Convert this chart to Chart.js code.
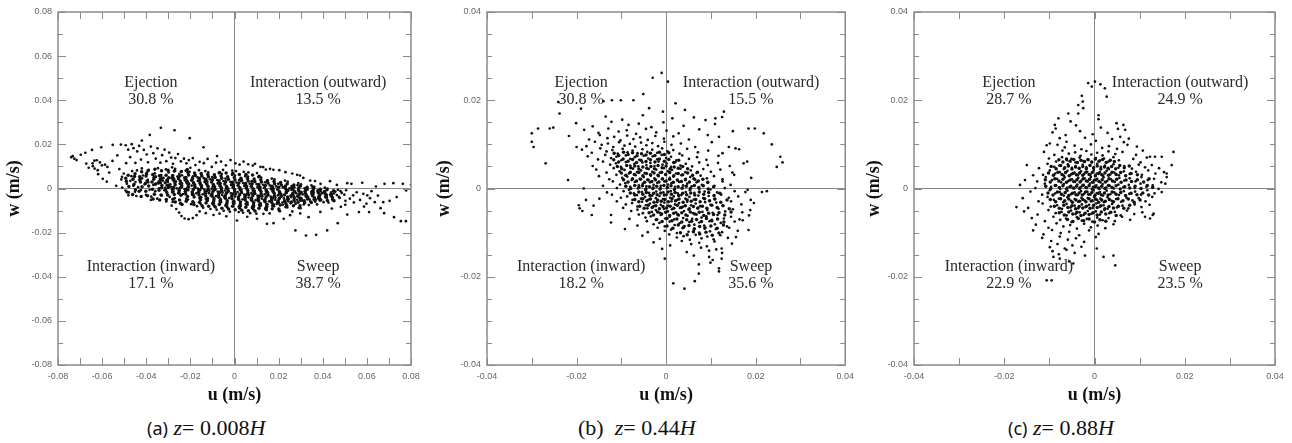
<!DOCTYPE html>
<html>
<head>
<meta charset="utf-8">
<script src="https://cdn.jsdelivr.net/npm/chart.js@4.4.1/dist/chart.umd.min.js"></script>
<style>
  body { margin: 0; background: #fff; width: 1292px; height: 443px; position: relative; overflow: hidden; }
  .panel { position: absolute; top: 0; }
  .cap { position: absolute; top: 414px; font-family: 'Liberation Serif', serif; font-size: 22px; line-height: 28px; white-space: nowrap; color: #111; }
  .cap .sans { font-family: 'Noto Sans', sans-serif; font-size: 18px; }
</style>
</head>
<body>
<div class="panel" style="left:0px"><canvas id="graficoA" width="430" height="410"></canvas></div>
<div class="panel" style="left:430px"><canvas id="graficoB" width="430" height="410"></canvas></div>
<div class="panel" style="left:860px"><canvas id="graficoC" width="432" height="410"></canvas></div>
<div class="cap" style="left:147px"><span class="sans">(a)</span> <i>z</i>= 0.008<i>H</i></div>
<div class="cap" style="left:578px">(b)&nbsp; <i>z</i>= 0.44<i>H</i></div>
<div class="cap" style="left:1008px"><span class="sans">(c)</span> <i>z</i>= 0.88<i>H</i></div>
<script>
// quadrant names and shares (%), one list per panel
const quadrantNames = ['Ejection', 'Interaction (outward)', 'Interaction (inward)', 'Sweep'];
const sharesA = ['30.8 %', '13.5 %', '17.1 %', '38.7 %'];
const sharesB = ['30.8 %', '15.5 %', '18.2 %', '35.6 %'];
const sharesC = ['28.7 %', '24.9 %', '22.9 %', '23.5 %'];

// axis limits (m/s) and tick spacing
const limitA = 0.08, limitB = 0.04, limitC = 0.04;
const labelStep = 0.02;

// samples, [u, w] in mm/s
const ptsA = [
  [-74.0,14.2],[-72.6,13.5],[-73.3,14.7],[-71.6,12.9],[-69.7,15.3],[-67.6,16.2],[-64.6,17.5],[-60.4,18.7],[-55.2,19.8],[-51.5,19.9],
  [-49.3,19.6],[-46.6,20.1],[-42.0,21.7],[-38.4,24.3],[-33.4,27.5],[-27.2,26.4],[-20.3,22.8],[-14.0,18.7],[-7.9,14.7],
  [-63.5,12.6],[-64.3,11.4],[-64.2,10.1],[-63.4,9.0],[-62.0,8.3],[-61.0,11.8],[-62.4,12.8],[-60.1,10.5],[-58.7,10.8],[-57.6,9.8],
  [-67.2,11.3],[-66.1,9.4],[-61.8,6.5],[-59.7,4.4],[-57.9,3.1],[-56.8,7.2],[-55.3,12.5],[-53.1,15.0],[-52.2,8.8],[-51.0,5.3],
  [-53.6,1.2],[-49.1,11.5],[-48.2,17.6],[-47.3,14.2],[-45.8,18.3],[-44.9,11.6],[-44.1,16.8],[-43.2,19.3],[-42.4,13.1],[-41.1,17.5],
  [-39.8,15.4],[-39.2,11.9],[-37.9,19.0],[-36.8,16.0],[-35.7,13.5],[-34.9,18.2],[-33.6,11.7],[-32.8,15.1],[-31.7,17.6],[-30.9,12.4],
  [-29.6,16.3],[-28.7,14.0],[-27.9,11.2],[-26.8,13.8],[-25.6,15.6],[-24.3,12.3],[-22.9,13.5],[-21.8,11.4],[-20.7,12.9],[-18.9,13.8],
  [-17.7,10.6],[-15.8,12.1],[-13.9,11.5],[-12.2,13.4],[-10.3,9.8],[-8.4,11.7],[-6.1,12.2],[-3.9,10.5],[-1.8,12.9],[0.4,11.4],
  [2.3,10.8],[4.1,12.2],[6.2,11.0],[8.3,10.4],[9.3,11.2],[11.8,9.8],[13.0,9.7],[14.2,8.6],[16.1,8.9],[17.6,8.5],
  [20.3,8.3],[23.1,7.4],[26.2,6.8],[28.4,6.2],[29.7,5.9],[31.2,4.8],[34.3,3.6],[36.5,3.4],[39.0,2.1],[43.3,3.3],[46.4,1.6],
  [-28.5,-7.8],[-26.4,-9.3],[-25.1,-10.9],[-24.0,-12.5],[-22.6,-13.6],[-20.8,-13.9],[-18.9,-13.4],[-17.2,-12.1],[-15.8,-10.4],[-13.0,-11.2],
  [-9.5,-12.0],[-6.8,-11.4],[-3.7,-12.6],[1.1,-14.5],[5.8,-12.8],[10.2,-13.7],[14.7,-16.0],[17.7,-15.7],[22.3,-13.7],[25.2,-12.1],
  [27.6,-19.0],[29.8,-11.3],[32.4,-21.3],[33.6,-13.0],[37.0,-21.0],[38.9,-10.6],[42.0,-19.0],[44.1,-9.1],[46.8,-15.7],[48.2,-8.3],[51.1,-11.8],
  [51.1,2.4],[53.0,2.1],[55.4,-1.7],[57.9,2.6],[58.4,-2.4],[60.2,-3.1],[62.1,-1.2],[65.0,-3.2],[68.0,2.1],[72.0,2.4],
  [76.3,2.1],[80.0,1.7],[82.8,1.4],[77.8,-0.9],[63.6,-6.2],[67.4,-6.2],[58.7,-8.2],[56.4,-10.7],[61.0,-10.7],[67.8,-11.2],
  [72.3,-13.0],[75.4,-14.8],[77.7,-14.8],[80.8,-13.0],[84.2,-9.7],[86.7,-1.5],[86.6,-3.8],[52.3,-4.6],[54.1,-6.3],[50.6,-0.8],
  [53.8,-3.1],[56.9,-5.2],[59.8,-6.9],[61.4,-4.4],[64.1,0.9],[70.3,-5.6],[73.5,-3.9],[66.2,-8.9],[50.2,-7.4],
  [-51.3,4.1],[-49.4,-0.9],[-50.2,6.8],[-48.8,2.2],[-50.9,0.4],
  [-46.4,7.9],[-47.2,3.5],[-45.8,1.2],[-47.9,-1.8],[-46.7,5.6],[-48.1,-3.1],
  [-44.2,8.2],[-42.8,5.1],[-44.9,2.9],[-43.7,0.6],[-45.1,-1.5],[-43.1,3.8],[-44.5,-3.4],
  [-39.8,7.1],[-41.9,4.6],[-40.7,1.9],[-42.4,-0.7],[-40.1,-2.9],[-41.5,5.9],[-39.6,3.2],[-42.0,9.1],
  [-38.9,8.4],[-37.1,6.2],[-39.3,3.9],[-36.8,1.6],[-38.5,-0.6],[-37.7,-3.7],[-36.6,5.1],[-39.1,2.8],[-37.9,-5.2],
  [-34.7,9.2],[-36.1,6.9],[-33.8,4.4],[-35.5,2.2],[-34.2,0.1],[-36.3,-2.4],[-35.0,-4.6],[-33.6,5.5],[-34.4,3.1],[-35.9,-1.2],
  [-31.1,8.7],[-33.2,6.1],[-32.5,3.6],[-30.7,1.4],[-31.8,-0.8],[-33.0,-3.2],[-30.9,-5.9],[-32.2,4.8],[-33.4,2.5],[-31.4,0.3],
  [-28.3,9.6],[-29.9,7.3],[-27.8,5.0],[-30.2,2.9],[-28.9,0.8],[-27.6,-1.5],[-29.4,-3.8],[-28.0,-6.1],[-30.3,4.1],[-29.1,1.9],[-27.7,-0.4],
  [-26.9,8.9],[-25.0,6.6],[-27.3,4.3],[-24.8,2.2],[-26.2,0.1],[-25.5,-2.1],[-27.1,-4.4],[-24.7,-6.8],[-25.9,5.4],[-26.6,3.2],[-24.9,-1.0],[-27.4,7.8],
  [-22.1,8.1],[-23.8,6.0],[-21.7,3.8],[-24.2,1.7],[-22.6,-0.3],[-23.3,-2.5],[-21.9,-4.7],[-24.4,-6.6],[-22.8,4.9],[-21.6,2.6],[-23.9,0.6],[-22.4,-1.4],
  [-20.4,7.6],[-18.8,5.5],[-21.3,3.3],[-19.4,1.3],[-20.9,-0.7],[-18.6,-2.8],[-21.1,-5.0],[-19.7,-7.1],[-18.9,4.4],[-20.6,2.2],[-21.4,0.3],[-19.1,-1.8],[-20.0,9.4],
  [-16.1,8.3],[-17.8,6.2],[-15.7,4.0],[-18.2,1.9],[-16.6,-0.1],[-17.3,-2.2],[-15.9,-4.3],[-18.4,-6.5],[-16.8,5.1],[-15.6,2.9],[-17.9,0.8],[-16.4,-1.2],[-17.0,-8.0],
  [-13.2,7.9],[-14.9,5.8],[-12.8,3.6],[-15.3,1.5],[-13.7,-0.5],[-14.4,-2.6],[-13.0,-4.7],[-15.4,-6.9],[-13.9,4.7],[-12.7,2.5],[-15.0,0.4],[-13.5,-1.6],[-14.2,-8.7],
  [-11.9,7.3],[-10.1,5.2],[-12.3,3.1],[-9.8,1.0],[-11.4,-1.0],[-10.7,-3.1],[-12.1,-5.2],[-9.6,-7.4],[-11.1,4.2],[-12.4,2.0],[-10.3,-0.1],[-11.6,-2.1],[-10.9,-9.3],[-9.7,-6.3],
  [-7.1,7.0],[-8.9,4.9],[-6.8,2.7],[-9.3,0.6],[-7.6,-1.4],[-8.4,-3.5],[-6.7,-5.6],[-9.2,-7.8],[-7.9,3.8],[-6.6,1.6],[-8.7,-0.5],[-7.3,-2.5],[-8.1,-9.6],[-9.4,-6.7],
  [-5.8,6.6],[-4.1,4.5],[-6.3,2.3],[-3.8,0.2],[-5.4,-1.8],[-4.7,-3.9],[-6.1,-6.0],[-3.6,-8.2],[-5.0,3.4],[-6.4,1.2],[-4.3,-0.9],[-5.6,-2.9],[-4.9,-10.1],[-3.7,-7.1],[-5.2,8.4],
  [-1.1,6.2],[-2.9,4.1],[-0.8,1.9],[-3.3,-0.2],[-1.6,-2.2],[-2.4,-4.3],[-0.7,-6.4],[-3.2,-8.6],[-1.9,3.0],[-0.6,0.8],[-2.7,-1.3],[-1.3,-3.3],[-2.1,-10.5],[-3.4,-7.5],[-1.0,8.1],
  [0.2,5.9],[2.1,3.8],[-0.3,1.6],[2.4,-0.5],[0.6,-2.5],[1.7,-4.6],[-0.1,-6.7],[2.2,-8.9],[0.9,2.7],[-0.4,0.5],[1.4,-1.6],[0.3,-3.6],[1.9,-10.7],[2.5,-7.8],[0.7,7.9],
  [4.9,5.6],[3.1,3.5],[5.3,1.3],[2.8,-0.8],[4.4,-2.8],[3.7,-4.9],[5.1,-7.0],[2.6,-9.1],[4.0,2.4],[5.4,0.2],[3.3,-1.9],[4.6,-3.9],[3.9,-11.0],[2.7,-8.0],[4.2,7.5],
  [6.1,5.4],[7.8,3.3],[5.7,1.1],[8.3,-1.0],[6.6,-3.0],[7.4,-5.1],[5.9,-7.2],[8.4,-9.3],[6.9,2.2],[5.6,0.0],[7.7,-2.1],[6.4,-4.1],[7.1,-11.2],[8.2,-8.2],[6.3,7.3],
  [10.8,5.2],[9.1,3.1],[11.3,0.9],[8.7,-1.2],[10.4,-3.2],[9.6,-5.3],[11.1,-7.4],[8.6,-9.5],[10.0,2.0],[11.4,-0.2],[9.3,-2.3],[10.6,-4.3],[9.9,-11.4],[8.8,-8.3],[10.2,7.0],
  [12.1,4.9],[13.9,2.8],[11.7,0.6],[14.3,-1.5],[12.6,-3.5],[13.4,-5.6],[11.9,-7.6],[14.2,-9.6],[12.9,1.7],[11.6,-0.5],[13.7,-2.6],[12.4,-4.6],[13.1,-11.5],[14.4,-8.5],
  [16.9,4.5],[15.1,2.5],[17.3,0.3],[14.8,-1.7],[16.4,-3.7],[15.7,-5.8],[17.1,-7.8],[14.6,-9.8],[16.0,1.4],[17.4,-0.7],[15.3,-2.8],[16.6,-4.8],[15.9,-11.3],[14.7,-8.7],
  [18.1,4.1],[19.8,2.1],[17.7,-0.1],[20.3,-2.1],[18.6,-4.1],[19.4,-6.1],[17.9,-8.1],[20.2,-10.1],[18.9,1.0],[17.6,-1.1],[19.7,-3.1],[18.4,-5.1],[19.1,-7.0],
  [22.9,3.6],[21.1,1.6],[23.3,-0.5],[20.8,-2.5],[22.4,-4.5],[21.7,-6.4],[23.1,-8.4],[20.6,-10.3],[22.0,0.6],[23.4,-1.5],[21.3,-3.5],[22.6,-5.4],[21.9,-7.4],
  [24.1,3.1],[25.9,1.1],[23.7,-0.9],[26.3,-2.9],[24.6,-4.8],[25.4,-6.7],[23.9,-8.6],[26.2,-10.4],[24.9,0.1],[23.6,-1.9],[25.7,-3.9],[24.4,-5.8],
  [28.9,2.5],[27.1,0.6],[29.3,-1.3],[26.8,-3.2],[28.4,-5.1],[27.7,-7.0],[29.1,-8.8],[26.6,-0.3],[28.0,-2.2],[29.4,-4.1],[27.3,-6.0],[28.6,1.5],
  [30.1,1.9],[31.8,0.1],[29.7,-1.8],[32.3,-3.6],[30.6,-5.4],[31.4,-7.2],[29.9,-8.9],[32.2,-0.8],[30.9,-2.7],[29.6,-4.5],[31.7,-6.3],
  [34.9,1.4],[33.1,-0.4],[35.3,-2.2],[32.8,-4.0],[34.4,-5.8],[33.7,-7.5],[35.1,-1.3],[32.6,-3.1],[34.0,-4.9],[35.4,0.5],
  [36.1,0.9],[37.8,-0.9],[35.7,-2.6],[38.3,-4.3],[36.6,-6.0],[37.4,-7.2],[35.9,-1.8],[38.2,-3.5],[36.9,-5.1],
  [40.9,0.4],[39.1,-1.3],[41.3,-3.0],[38.8,-4.6],[40.4,-6.2],[39.7,-2.1],[41.1,-3.8],[38.6,-5.4],
  [42.1,-0.1],[43.8,-1.8],[41.7,-3.4],[44.3,-5.0],[42.6,-6.4],[43.4,-2.6],[41.9,-4.2],
  [46.9,-0.6],[45.1,-2.2],[47.3,-3.8],[44.8,-5.3],[46.4,-3.0],[45.7,-1.4],
  [48.1,-1.2],[49.8,-2.8],[47.7,-4.3],[50.3,-5.6],[48.6,-2.0]
];

// denser samples of the band centre in (a)
const coreA = [
  [-48.2,6.0],[-49.0,3.3],[-47.9,0.9],[-48.7,-1.6],[-49.3,4.6],
  [-45.1,6.7],[-46.0,4.2],[-45.6,1.8],[-44.9,-0.6],[-46.2,-2.7],[-45.3,5.4],
  [-42.1,7.6],[-43.0,5.3],[-42.6,3.0],[-41.9,0.8],[-43.2,-1.3],[-42.3,-3.6],[-42.8,4.1],
  [-39.2,8.1],[-40.1,5.7],[-39.6,3.4],[-38.9,1.1],[-40.2,-1.2],[-39.4,-3.3],[-39.9,6.6],[-40.4,2.3],
  [-36.1,8.7],[-37.0,6.4],[-36.6,4.2],[-35.9,1.9],[-37.2,-0.3],[-36.3,-2.6],[-36.9,-4.8],[-35.8,5.3],[-37.4,3.0],
  [-33.1,8.0],[-34.0,5.8],[-33.6,3.6],[-32.9,1.4],[-34.2,-0.8],[-33.3,-3.0],[-33.9,-5.2],[-32.8,4.7],[-34.4,2.5],[-33.0,0.3],
  [-30.1,8.3],[-31.0,6.0],[-30.6,3.7],[-29.9,1.5],[-31.2,-0.7],[-30.3,-2.9],[-30.9,-5.0],[-29.8,4.9],[-31.4,2.6],[-30.0,0.4],[-30.7,-1.8],
  [-27.1,8.0],[-28.0,5.9],[-27.6,3.7],[-26.9,1.6],[-28.2,-0.5],[-27.3,-2.7],[-27.9,-4.9],[-26.8,-6.1],[-28.4,4.8],[-27.0,2.6],[-27.7,0.5],[-28.1,-1.6],
  [-24.1,7.7],[-25.0,5.5],[-24.6,3.4],[-23.9,1.2],[-25.2,-0.9],[-24.3,-3.1],[-24.9,-5.2],[-23.8,-7.3],[-25.4,4.4],[-24.0,2.3],[-24.7,0.2],[-25.1,-2.0],
  [-21.1,7.2],[-22.0,5.0],[-21.6,2.8],[-20.9,0.7],[-22.2,-1.4],[-21.3,-3.6],[-21.9,-5.8],[-20.8,6.1],[-22.4,3.9],[-21.0,1.8],[-21.7,-0.4],[-22.1,-2.5],[-21.4,8.6],
  [-18.1,7.0],[-19.0,4.8],[-18.6,2.6],[-17.9,0.5],[-19.2,-1.6],[-18.3,-3.8],[-18.9,-6.0],[-17.8,5.9],[-19.4,3.7],[-18.0,1.6],[-18.7,-0.5],[-19.1,-2.7],[-18.4,-7.3],
  [-15.1,6.8],[-16.0,4.6],[-15.6,2.4],[-14.9,0.3],[-16.2,-1.8],[-15.3,-4.0],[-15.9,-6.2],[-14.8,5.7],[-16.4,3.5],[-15.0,1.4],[-15.7,-0.7],[-16.1,-2.9],[-15.4,-5.1],[-14.7,-7.8],
  [-12.1,6.4],[-13.0,4.2],[-12.6,2.0],[-11.9,-0.1],[-13.2,-2.2],[-12.3,-4.4],[-12.9,-6.6],[-11.8,5.3],[-13.4,3.1],[-12.0,1.0],[-12.7,-1.1],[-13.1,-3.3],[-12.4,-5.5],[-11.7,-8.0],
  [-9.1,6.2],[-10.0,4.0],[-9.6,1.8],[-8.9,-0.3],[-10.2,-2.4],[-9.3,-4.6],[-9.9,-6.8],[-8.8,5.1],[-10.4,2.9],[-9.0,0.8],[-9.7,-1.3],[-10.1,-3.5],[-9.4,-5.7],[-8.7,-8.4],
  [-6.1,5.7],[-7.0,3.5],[-6.6,1.3],[-5.9,-0.8],[-7.2,-2.9],[-6.3,-5.1],[-6.9,-7.3],[-5.8,4.6],[-7.4,2.4],[-6.0,0.3],[-6.7,-1.8],[-7.1,-4.0],[-6.4,-6.2],[-5.7,-8.9],[-6.8,7.3],
  [-3.1,5.3],[-4.0,3.1],[-3.6,0.9],[-2.9,-1.2],[-4.2,-3.3],[-3.3,-5.5],[-3.9,-7.7],[-2.8,4.2],[-4.4,2.0],[-3.0,-0.1],[-3.7,-2.2],[-4.1,-4.4],[-3.4,-6.6],[-2.7,-9.3],[-3.8,7.0],
  [-0.1,5.0],[-1.0,2.8],[-0.6,0.6],[0.1,-1.5],[-1.2,-3.6],[-0.3,-5.8],[-0.9,-8.0],[0.2,3.9],[-1.4,1.7],[0.0,-0.4],[-0.7,-2.5],[-1.1,-4.7],[-0.4,-6.9],[0.3,-9.6],[-0.8,6.8],
  [2.9,4.7],[2.0,2.5],[2.4,0.3],[3.1,-1.8],[1.8,-3.9],[2.7,-6.1],[2.1,-8.3],[3.2,3.6],[1.6,1.4],[3.0,-0.7],[2.3,-2.8],[1.9,-5.0],[2.6,-7.2],[3.3,-9.9],[2.2,6.4],
  [5.9,4.5],[5.0,2.3],[5.4,0.1],[6.1,-2.0],[4.8,-4.1],[5.7,-6.3],[5.1,-8.5],[6.2,3.4],[4.6,1.2],[6.0,-0.9],[5.3,-3.0],[4.9,-5.2],[5.6,-7.4],[6.3,-10.1],[5.2,6.3],
  [8.9,4.3],[8.0,2.1],[8.4,-0.1],[9.1,-2.2],[7.8,-4.3],[8.7,-6.5],[8.1,-8.7],[9.2,3.2],[7.6,1.0],[9.0,-1.1],[8.3,-3.2],[7.9,-5.4],[8.6,-7.6],[9.3,-10.2],[8.2,6.1],
  [11.9,4.0],[11.0,1.8],[11.4,-0.4],[12.1,-2.5],[10.8,-4.6],[11.7,-6.8],[11.1,-8.9],[12.2,2.9],[10.6,0.7],[12.0,-1.4],[11.3,-3.5],[10.9,-5.7],[11.6,-7.8],[11.2,5.6],
  [14.9,3.6],[14.0,1.4],[14.4,-0.8],[15.1,-2.9],[13.8,-5.0],[14.7,-7.1],[14.1,-9.1],[15.2,2.5],[13.6,0.3],[15.0,-1.8],[14.3,-3.9],[13.9,-6.0],[14.6,-8.1],
  [17.9,3.2],[17.0,1.0],[17.4,-1.2],[18.1,-3.3],[16.8,-5.4],[17.7,-7.4],[17.1,-9.2],[18.2,2.1],[16.6,-0.1],[18.0,-2.2],[17.3,-4.3],[16.9,-6.4],
  [20.9,2.7],[20.0,0.6],[20.4,-1.5],[21.1,-3.5],[19.8,-5.5],[20.7,-7.5],[20.1,-9.3],[21.2,1.6],[19.6,-0.5],[21.0,-2.5],[20.3,-4.5],[19.9,-6.5],
  [23.9,2.1],[23.0,0.1],[23.4,-1.9],[24.1,-3.9],[22.8,-5.9],[23.7,-7.8],[23.1,1.1],[24.2,-0.9],[22.6,-2.9],[24.0,-4.9],[23.3,-6.9],
  [26.9,1.6],[26.0,-0.4],[26.4,-2.3],[27.1,-4.2],[25.8,-6.1],[26.7,-7.8],[26.1,0.6],[27.2,-1.4],[25.6,-3.3],[27.0,-5.2],
  [29.9,1.1],[29.0,-0.8],[29.4,-2.6],[30.1,-4.4],[28.8,-6.2],[29.7,-7.8],[29.1,0.2],[30.2,-1.7],[28.6,-3.5],[30.0,-5.3],
  [32.9,0.6],[32.0,-1.2],[32.4,-3.0],[33.1,-4.8],[31.8,-6.5],[32.7,-0.3],[32.1,-2.1],[33.2,-3.9],[31.6,-5.6],
  [35.9,0.1],[35.0,-1.6],[35.4,-3.3],[36.1,-5.0],[34.8,-6.4],[35.7,-0.7],[35.1,-2.5],[36.2,-4.2],
  [38.9,-0.3],[38.0,-1.9],[38.4,-3.6],[39.1,-5.2],[37.8,-1.1],[38.7,-2.8],[38.1,-4.4],
  [41.9,-0.6],[41.0,-2.2],[41.4,-3.9],[42.1,-5.4],[40.8,-1.4],[41.7,-3.0],
  [44.9,-1.0],[44.0,-2.6],[44.4,-4.1],[45.1,-5.6],[43.8,-3.3]
];

const ptsB = [
  [-13.5,16.3],[-9.8,15.6],[-5.2,16.6],[1.4,15.9],[6.2,16.1],[8.8,15.5],[12.5,16.2],
  [-20.1,14.8],[-16.4,14.1],[-12.2,15.1],[-8.4,14.4],[-6.1,14.7],[-3.3,13.9],[-0.6,15.0],[3.9,14.2],[10.9,14.6],[14.9,13.0],
  [-18.3,13.3],[-15.1,12.6],[-12.9,13.6],[-10.6,12.9],[-8.8,13.2],[-6.7,12.4],[-4.5,13.5],[-2.2,12.7],[0.1,13.1],[2.8,12.5],[7.4,13.4],[18.4,13.6],[19.8,13.6],
  [-21.7,11.9],[-17.2,11.1],[-14.8,12.1],[-13.1,11.4],[-11.6,11.7],[-10.2,10.9],[-8.7,12.0],[-7.3,11.2],[-5.8,11.6],[-4.1,11.0],[-2.4,11.9],[-0.5,11.3],[1.6,11.8],[5.1,11.1],[9.3,12.1],[11.8,11.7],[21.8,12.5],
  [-20.0,9.4],[-17.8,9.6],[-15.9,10.6],[-14.4,9.9],[-13.0,10.2],[-11.8,9.4],[-10.5,10.5],[-9.3,9.7],[-8.1,10.1],[-6.9,9.5],[-5.6,10.4],[-4.4,9.8],[-3.1,10.3],[-1.8,9.6],[-0.4,10.6],[1.2,9.9],[3.3,10.2],[6.5,9.4],[10.2,10.5],[14.0,9.4],[15.5,9.1],[23.6,10.0],
  [-18.8,8.8],[-16.6,8.1],[-14.7,9.1],[-13.3,8.4],[-12.0,8.7],[-10.8,7.9],[-9.7,9.0],[-8.6,8.2],[-7.5,8.6],[-6.4,8.0],[-5.3,8.9],[-4.2,8.3],[-3.1,8.8],[-2.0,8.1],[-0.9,9.1],[0.3,8.4],[1.6,8.7],[3.0,7.9],[4.7,9.0],[7.1,8.2],[9.4,8.6],[12.6,8.0],[16.3,8.9],
  [-17.5,7.3],[-15.2,6.6],[-13.6,7.6],[-12.3,6.9],[-11.1,7.2],[-10.0,6.4],[-9.0,7.5],[-8.0,6.7],[-7.0,7.1],[-6.0,6.5],[-5.0,7.4],[-4.0,6.8],[-3.0,7.3],[-2.0,6.6],[-1.0,7.6],[0.0,6.9],[1.1,7.2],[2.3,6.4],[3.6,7.5],[5.1,6.7],[6.9,7.1],[9.0,6.5],[11.7,7.4],[17.3,5.7],[25.5,7.2],
  [-26.9,5.7],[-16.4,5.1],[-14.1,6.1],[-12.5,5.4],[-11.2,5.7],[-10.1,4.9],[-9.0,6.0],[-8.0,5.2],[-7.1,5.6],[-6.2,5.0],[-5.3,5.9],[-4.4,5.3],[-3.5,5.8],[-2.6,5.1],[-1.7,6.1],[-0.8,5.4],[0.1,5.7],[1.1,4.9],[2.1,6.0],[3.2,5.2],[4.4,5.6],[5.8,5.0],[7.4,5.9],[9.3,5.3],[11.6,5.8],[14.2,5.1],[18.1,6.1],[26.0,5.9],
  [-15.6,4.3],[-13.3,3.6],[-11.7,4.6],[-10.4,3.9],[-9.3,4.2],[-8.3,3.4],[-7.4,4.5],[-6.5,3.7],[-5.6,4.1],[-4.8,3.5],[-3.9,4.4],[-3.1,3.8],[-2.2,4.3],[-1.4,3.6],[-0.5,4.6],[0.4,3.9],[1.3,4.2],[2.2,3.4],[3.2,4.5],[4.3,3.7],[5.5,4.1],[6.8,3.5],[8.3,4.4],[10.0,3.8],[12.1,4.3],[14.8,3.6],[24.7,4.9],
  [-15.0,2.8],[-12.7,2.1],[-11.1,3.1],[-9.8,2.4],[-8.7,2.7],[-7.7,1.9],[-6.8,3.0],[-5.9,2.2],[-5.0,2.6],[-4.2,2.0],[-3.4,2.9],[-2.6,2.3],[-1.7,2.8],[-0.9,2.1],[-0.1,3.1],[0.8,2.4],[1.6,2.7],[2.5,1.9],[3.4,3.0],[4.4,2.2],[5.4,2.6],[6.5,2.0],[7.7,2.9],[9.1,2.3],[10.7,2.8],[12.6,2.1],[15.2,3.1],[19.0,2.4],
  [-21.9,1.9],[-14.1,0.6],[-11.9,1.6],[-10.3,0.9],[-9.1,1.2],[-8.0,0.4],[-7.0,1.5],[-6.1,0.7],[-5.2,1.1],[-4.4,0.5],[-3.6,1.4],[-2.8,0.8],[-2.0,1.3],[-1.2,0.6],[-0.4,1.6],[0.4,0.9],[1.2,1.2],[2.0,0.4],[2.9,1.5],[3.8,0.7],[4.7,1.1],[5.7,0.5],[6.8,1.4],[8.0,0.8],[9.3,1.3],[10.8,0.6],[12.6,1.6],[14.4,0.8],[17.7,-0.8],
  [-18.4,0.0],[-13.2,-0.9],[-11.0,0.1],[-9.5,-0.6],[-8.3,-0.3],[-7.2,-1.1],[-6.3,0.0],[-5.4,-0.8],[-4.6,-0.4],[-3.8,-1.0],[-3.0,-0.1],[-2.2,-0.7],[-1.4,-0.2],[-0.6,-0.9],[0.2,0.1],[1.0,-0.6],[1.8,-0.3],[2.6,-1.1],[3.5,0.0],[4.4,-0.8],[5.3,-0.4],[6.3,-1.0],[7.4,-0.1],[8.6,-0.7],[9.9,-0.2],[11.4,-0.9],[13.1,0.1],[15.3,-0.6],[18.2,-0.3],[21.4,-0.8],[22.5,-0.6],
  [-17.9,-2.6],[-14.9,-2.3],[-12.1,-1.4],[-10.1,-2.1],[-8.7,-1.8],[-7.5,-2.6],[-6.5,-1.5],[-5.6,-2.3],[-4.7,-1.9],[-3.9,-2.5],[-3.1,-1.6],[-2.3,-2.2],[-1.5,-1.7],[-0.7,-2.4],[0.1,-1.4],[0.9,-2.1],[1.7,-1.8],[2.5,-2.6],[3.4,-1.5],[4.3,-2.3],[5.2,-1.9],[6.2,-2.5],[7.2,-1.6],[8.3,-2.2],[9.5,-1.7],[10.8,-2.4],[12.3,-1.4],[14.0,-2.1],[16.1,-1.8],[18.9,-2.6],
  [-19.5,-3.8],[-16.2,-3.9],[-11.0,-2.9],[-9.0,-3.6],[-7.6,-3.3],[-6.4,-4.1],[-5.4,-3.0],[-4.5,-3.8],[-3.6,-3.4],[-2.8,-4.0],[-2.0,-3.1],[-1.2,-3.7],[-0.4,-3.2],[0.4,-3.9],[1.2,-2.9],[2.0,-3.6],[2.9,-3.3],[3.8,-4.1],[4.7,-3.0],[5.6,-3.8],[6.6,-3.4],[7.6,-4.0],[8.7,-3.1],[9.9,-3.7],[11.2,-3.2],[12.7,-3.9],[14.5,-2.9],[16.8,-3.6],[19.6,-3.3],
  [-18.7,-5.1],[-12.3,-6.0],[-9.6,-4.4],[-7.8,-5.1],[-6.4,-4.8],[-5.2,-5.6],[-4.2,-4.5],[-3.2,-5.3],[-2.3,-4.9],[-1.4,-5.5],[-0.5,-4.6],[0.4,-5.2],[1.3,-4.7],[2.2,-5.4],[3.1,-4.4],[4.0,-5.1],[5.0,-4.8],[6.0,-5.6],[7.0,-4.5],[8.1,-5.3],[9.2,-4.9],[10.4,-5.5],[11.7,-4.6],[13.2,-5.2],[14.9,-4.7],[17.0,-5.4],[18.8,-4.9],
  [-16.6,-6.0],[-8.2,-6.9],[-6.1,-5.9],[-4.6,-6.6],[-3.4,-6.3],[-2.3,-7.1],[-1.2,-6.0],[-0.2,-6.8],[0.8,-6.4],[1.8,-7.0],[2.8,-6.1],[3.8,-6.7],[4.8,-6.2],[5.8,-6.9],[6.8,-5.9],[7.9,-6.6],[9.0,-6.3],[10.2,-7.1],[11.5,-6.0],[12.9,-6.8],[14.5,-6.4],[16.4,-7.0],[18.5,-6.1],
  [-12.3,-7.7],[-6.4,-8.4],[-4.3,-7.4],[-2.8,-8.1],[-1.5,-7.8],[-0.3,-8.6],[0.8,-7.5],[1.9,-8.3],[3.0,-7.9],[4.1,-8.5],[5.2,-7.6],[6.3,-8.2],[7.4,-7.7],[8.5,-8.4],[9.7,-7.4],[10.9,-8.1],[12.2,-7.8],[13.6,-8.6],[15.3,-7.5],[17.1,-7.2],
  [-9.2,-9.2],[-4.1,-9.9],[-1.9,-8.9],[-0.3,-9.6],[1.1,-9.3],[2.4,-10.1],[3.7,-9.0],[5.0,-9.8],[6.2,-9.4],[7.4,-10.0],[8.6,-9.1],[9.8,-9.7],[11.1,-9.2],[12.5,-9.9],[14.1,-8.9],[16.0,-9.6],[18.4,-9.4],
  [-5.3,-10.7],[-1.4,-11.4],[0.7,-10.4],[2.4,-11.1],[3.9,-10.8],[5.3,-11.6],[6.6,-10.5],[7.9,-11.3],[9.2,-10.9],[10.6,-11.5],[12.1,-10.6],[13.8,-11.2],[15.6,-11.0],
  [-2.8,-12.2],[0.9,-12.9],[3.5,-11.9],[5.6,-12.6],[7.4,-12.3],[9.1,-13.1],[10.8,-12.0],[12.4,-13.6],[14.7,-12.5],
  [-0.9,-13.7],[4.6,-14.4],[7.8,-13.4],[9.6,-14.1],[11.2,-13.8],[12.5,-14.6],
  [-0.3,-15.9],[6.2,-15.2],[9.6,-15.5],[10.4,-16.2],[12.4,-15.9],
  [7.3,-17.2],[9.9,-16.8],[11.8,-18.1],[7.3,-19.3],[11.8,-18.8],[1.6,-21.5],[6.4,-21.0],[4.1,-22.7],
  [-1.0,26.2],[-3.0,25.1],[0.4,24.2],[-5.1,21.4],[2.1,19.3],[-7.3,20.0],[-10.1,20.0],[-12.1,20.0],[-14.0,19.8],[-24.1,19.6],
  [-19.0,18.1],[-23.8,17.0],[12.9,17.4],[11.0,15.9],[-3.8,18.2],[-0.7,17.4],[4.2,17.8],
  [-28.6,13.6],[-30.0,12.5],[-30.0,10.6],[-29.6,9.4],[-26.0,13.6],[-19.3,-4.5],[-25.2,13.8]
];

// denser samples of the cloud centre in (b)
const coreB = [
  [-11.6,8.0],[-10.6,7.5],[-9.5,8.2],[-8.5,7.7],[-7.5,8.1],[-6.5,7.4],[-5.5,7.9],[-4.5,7.6],[-3.5,8.0],[-2.5,7.5],[-1.5,8.2],[-0.4,7.7],[0.6,8.1],
  [-11.7,6.5],[-10.6,6.0],[-9.6,6.7],[-8.5,6.2],[-7.5,6.6],[-6.6,5.9],[-5.6,6.4],[-4.5,6.1],[-3.5,6.5],[-2.5,6.0],[-1.5,6.7],[-0.4,6.2],[0.6,6.6],[1.7,5.9],[2.8,6.4],
  [-10.9,5.0],[-9.9,4.5],[-8.8,5.2],[-7.9,4.7],[-7.0,5.1],[-6.1,4.4],[-5.2,4.9],[-4.3,4.6],[-3.4,5.0],[-2.6,4.5],[-1.8,5.2],[-0.9,4.7],[0.0,5.1],[0.9,4.4],[1.8,4.9],[2.7,4.6],[3.7,5.0],[4.8,4.5],
  [-10.0,3.5],[-9.0,3.0],[-8.0,3.7],[-7.1,3.2],[-6.1,3.6],[-5.2,2.9],[-4.4,3.4],[-3.5,3.1],[-2.7,3.5],[-1.8,3.0],[-1.0,3.7],[-0.1,3.2],[0.8,3.6],[1.7,2.9],[2.7,3.4],[3.7,3.1],[4.8,3.5],[5.9,3.0],[7.0,3.7],
  [-9.5,2.0],[-8.5,1.5],[-7.5,2.2],[-6.6,1.7],[-5.7,2.1],[-4.8,1.4],[-4.0,1.9],[-3.2,1.6],[-2.4,2.0],[-1.6,1.5],[-0.8,2.2],[0.0,1.7],[0.8,2.1],[1.6,1.4],[2.5,1.9],[3.4,1.6],[4.3,2.0],[5.2,1.5],[6.2,2.2],[7.2,1.7],[8.2,2.1],[9.3,1.4],
  [-9.0,0.5],[-7.9,0.0],[-7.0,0.7],[-6.1,0.2],[-5.3,0.6],[-4.5,-0.1],[-3.7,0.4],[-2.9,0.1],[-2.1,0.5],[-1.3,0.0],[-0.5,0.7],[0.3,0.2],[1.1,0.6],[1.9,-0.1],[2.7,0.4],[3.6,0.1],[4.5,0.5],[5.4,0.0],[6.3,0.7],[7.3,0.2],[8.3,0.6],[9.4,-0.1],[10.6,0.4],
  [-8.0,-1.0],[-7.0,-1.5],[-6.1,-0.8],[-5.2,-1.3],[-4.4,-0.9],[-3.6,-1.6],[-2.8,-1.1],[-2.0,-1.4],[-1.2,-1.0],[-0.4,-1.5],[0.4,-0.8],[1.2,-1.3],[2.0,-0.9],[2.8,-1.6],[3.7,-1.1],[4.6,-1.4],[5.5,-1.0],[6.4,-1.5],[7.4,-0.8],[8.4,-1.3],[9.5,-0.9],[10.7,-1.6],[12.0,-1.1],
  [-7.0,-2.5],[-6.1,-3.0],[-5.2,-2.3],[-4.3,-2.8],[-3.5,-2.4],[-2.7,-3.1],[-1.9,-2.6],[-1.1,-2.9],[-0.3,-2.5],[0.5,-3.0],[1.3,-2.3],[2.1,-2.8],[2.9,-2.4],[3.8,-3.1],[4.7,-2.6],[5.6,-2.9],[6.6,-2.5],[7.6,-3.0],[8.6,-2.3],[9.7,-2.8],[10.9,-2.4],[12.2,-3.1],[13.6,-2.6],
  [-5.9,-4.0],[-4.9,-4.5],[-4.0,-3.8],[-3.1,-4.3],[-2.3,-3.9],[-1.5,-4.6],[-0.7,-4.1],[0.1,-4.4],[0.9,-4.0],[1.7,-4.5],[2.5,-3.8],[3.4,-4.3],[4.3,-3.9],[5.2,-4.6],[6.1,-4.1],[7.1,-4.4],[8.1,-4.0],[9.1,-4.5],[10.2,-3.8],[11.4,-4.3],[12.7,-3.9],[14.1,-4.6],
  [-3.8,-5.5],[-2.8,-6.0],[-1.9,-5.3],[-1.0,-5.8],[-0.1,-5.4],[0.8,-6.1],[1.7,-5.6],[2.6,-5.9],[3.5,-5.5],[4.4,-6.0],[5.4,-5.3],[6.4,-5.8],[7.4,-5.4],[8.4,-6.1],[9.5,-5.6],[10.6,-5.9],[11.8,-5.5],[13.1,-6.0],[14.5,-5.3],
  [-2.1,-7.0],[-0.9,-7.5],[0.2,-6.8],[1.3,-7.3],[2.4,-6.9],[3.5,-7.6],[4.6,-7.1],[5.7,-7.4],[6.8,-7.0],[7.9,-7.5],[9.0,-6.8],[10.2,-7.3],[11.5,-6.9],[12.9,-7.6],
  [0.2,-8.5],[1.5,-9.0],[2.7,-8.3],[3.9,-8.8],[5.1,-8.4],[6.3,-9.1],[7.5,-8.6],[8.7,-8.9],[10.0,-8.5],[11.4,-9.0],[12.8,-8.3],
  [3.2,-10.0],[4.7,-10.5],[6.1,-9.8],[7.5,-10.3],[8.9,-9.9],[10.3,-10.6],[11.8,-10.1]
];

const ptsC = [
  [-1.4,23.9],[0.1,24.2],[1.3,23.6],[2.3,22.7],[-0.6,23.1],
  [-2.8,21.0],[2.7,20.8],[-2.6,19.7],[-3.6,18.9],
  [-5.8,17.0],[-3.6,17.0],[0.9,16.6],[-2.5,18.2],
  [-8.0,15.9],[-5.3,15.2],[0.9,15.7],[4.9,14.8],[6.4,14.4],
  [-8.8,14.4],[-8.6,13.6],[-4.1,14.3],[1.4,13.8],[5.2,13.5],[6.8,13.3],
  [-9.3,12.7],[-6.4,12.1],[-3.2,13.0],[-0.4,12.3],[2.9,12.6],[5.7,11.7],
  [-7.7,11.4],[-6.2,10.6],[-2.1,11.5],[0.3,10.8],[3.9,11.2],[6.5,10.5],[7.6,11.3],
  [-10.6,9.8],[-9.9,10.2],[-8.2,9.9],[-6.6,9.3],[-4.4,9.7],[-2.9,8.9],[-0.8,10.0],[1.7,9.2],[3.2,9.6],[5.0,9.0],[7.3,9.9],[9.4,9.5],
  [-11.2,8.3],[-8.9,7.6],[-7.1,8.6],[-5.7,7.9],[-4.3,8.2],[-3.1,7.4],[-1.8,8.5],[-0.7,7.7],[0.6,8.1],[1.8,7.5],[3.1,8.4],[4.6,7.8],[6.2,8.3],[9.2,7.6],[10.7,8.6],[12.3,7.2],[17.5,8.3],
  [-10.1,6.8],[-8.5,6.1],[-7.2,7.1],[-6.1,6.4],[-5.1,6.7],[-4.2,5.9],[-3.3,7.0],[-2.4,6.2],[-1.5,6.6],[-0.6,6.0],[0.3,6.9],[1.2,6.3],[2.1,6.8],[3.1,6.1],[4.2,7.1],[5.4,6.4],[8.6,6.7],[10.2,5.9],[11.6,7.0],[13.4,7.2],[14.9,7.2],[17.1,5.3],
  [-15.0,5.3],[-12.3,4.6],[-10.4,5.6],[-8.9,4.9],[-7.8,5.2],[-6.8,4.4],[-5.9,5.5],[-5.0,4.7],[-4.2,5.1],[-3.4,4.5],[-2.6,5.4],[-1.8,4.8],[-1.0,5.3],[-0.2,4.6],[0.6,5.6],[1.4,4.9],[2.3,5.2],[3.2,4.4],[4.2,5.5],[5.3,4.7],[6.6,5.1],[8.3,4.5],[9.8,5.4],[11.2,4.8],[12.7,5.3],[14.3,4.6],[16.0,3.4],
  [-13.6,3.0],[-11.4,3.1],[-9.9,4.1],[-8.7,3.4],[-7.7,3.7],[-6.8,2.9],[-6.0,4.0],[-5.2,3.2],[-4.4,3.6],[-3.7,3.0],[-3.0,3.9],[-2.3,3.3],[-1.6,3.8],[-0.9,3.1],[-0.2,4.1],[0.5,3.4],[1.2,3.7],[1.9,2.9],[2.7,4.0],[3.5,3.2],[4.4,3.6],[5.4,3.0],[6.5,3.9],[7.8,3.3],[9.2,3.8],[10.5,3.1],[11.9,4.1],[13.5,3.4],[15.4,3.7],[16.0,2.6],
  [-15.4,1.9],[-12.7,1.6],[-10.8,2.6],[-9.4,1.9],[-8.3,2.2],[-7.4,1.4],[-6.6,2.5],[-5.8,1.7],[-5.0,2.1],[-4.3,1.5],[-3.6,2.4],[-2.9,1.8],[-2.2,2.3],[-1.5,1.6],[-0.8,2.6],[-0.1,1.9],[0.6,2.2],[1.3,1.4],[2.0,2.5],[2.8,1.7],[3.6,2.1],[4.5,1.5],[5.5,2.4],[6.6,1.8],[7.8,2.3],[9.1,1.6],[10.4,2.6],[11.8,1.9],[13.2,2.2],[14.8,1.4],
  [-16.5,0.8],[-13.1,0.1],[-11.0,1.1],[-9.6,0.4],[-8.5,0.7],[-7.6,-0.1],[-6.8,1.0],[-6.0,0.2],[-5.2,0.6],[-4.5,0.0],[-3.8,0.9],[-3.1,0.3],[-2.4,0.8],[-1.7,0.1],[-1.0,1.1],[-0.3,0.4],[0.4,0.7],[1.1,-0.1],[1.8,1.0],[2.6,0.2],[3.4,0.6],[4.3,0.0],[5.3,0.9],[6.4,0.3],[7.6,0.8],[8.9,0.1],[10.2,1.1],[11.5,0.4],[12.9,0.7],[14.2,-0.1],[15.7,1.1],
  [-14.2,-0.7],[-11.6,-1.4],[-9.9,-0.4],[-8.7,-1.1],[-7.7,-0.8],[-6.8,-1.6],[-6.0,-0.5],[-5.2,-1.3],[-4.4,-0.9],[-3.7,-1.5],[-3.0,-0.6],[-2.3,-1.2],[-1.6,-0.7],[-0.9,-1.4],[-0.2,-0.4],[0.5,-1.1],[1.2,-0.8],[1.9,-1.6],[2.7,-0.5],[3.5,-1.3],[4.4,-0.9],[5.4,-1.5],[6.5,-0.6],[7.7,-1.2],[9.0,-0.7],[10.3,-1.4],[11.7,-0.4],[13.3,-1.1],[14.9,-0.8],
  [-15.9,-2.2],[-12.4,-2.9],[-10.4,-1.9],[-9.0,-2.6],[-7.9,-2.3],[-6.9,-3.1],[-6.0,-2.0],[-5.2,-2.8],[-4.4,-2.4],[-3.6,-3.0],[-2.9,-2.1],[-2.2,-2.7],[-1.5,-2.2],[-0.8,-2.9],[-0.1,-1.9],[0.6,-2.6],[1.3,-2.3],[2.1,-3.1],[2.9,-2.0],[3.8,-2.8],[4.8,-2.4],[5.9,-3.0],[7.1,-2.1],[8.4,-2.7],[9.8,-2.2],[11.3,-2.9],[12.8,-1.9],
  [-17.3,-4.2],[-14.7,-4.4],[-11.5,-3.4],[-9.7,-4.1],[-8.3,-3.8],[-7.2,-4.6],[-6.2,-3.5],[-5.3,-4.3],[-4.4,-3.9],[-3.6,-4.5],[-2.8,-3.6],[-2.0,-4.2],[-1.2,-3.7],[-0.4,-4.4],[0.4,-3.4],[1.2,-4.1],[2.0,-3.8],[2.9,-4.6],[3.9,-3.5],[5.0,-4.3],[6.2,-3.9],[7.5,-4.5],[8.9,-3.6],[10.4,-4.2],[12.2,-3.7],[13.1,-5.7],
  [-15.6,-5.2],[-12.6,-5.9],[-10.2,-4.9],[-8.6,-5.6],[-7.3,-5.3],[-6.2,-6.1],[-5.2,-5.0],[-4.2,-5.8],[-3.3,-5.4],[-2.4,-6.0],[-1.5,-5.1],[-0.6,-5.7],[0.3,-5.2],[1.2,-5.9],[2.2,-4.9],[3.3,-5.6],[4.5,-5.3],[5.8,-6.1],[7.2,-5.0],[8.8,-5.8],[10.6,-5.4],[11.2,-6.4],[12.9,-6.0],
  [-13.9,-6.7],[-11.0,-7.4],[-9.1,-6.4],[-7.6,-7.1],[-6.3,-6.8],[-5.1,-7.6],[-3.9,-6.5],[-2.8,-7.3],[-1.7,-6.9],[-0.5,-7.5],[0.6,-6.6],[1.8,-7.2],[3.1,-6.7],[4.5,-7.4],[6.1,-6.4],[7.9,-7.1],[12.3,-6.8],
  [-13.0,-8.2],[-10.2,-8.9],[-8.4,-7.9],[-6.9,-8.6],[-5.4,-8.3],[-3.9,-9.1],[-2.3,-8.0],[-0.8,-8.8],[0.7,-8.4],[2.4,-9.0],[4.2,-8.1],
  [-13.6,-9.5],[-11.3,-10.4],[-9.4,-9.4],[-7.5,-10.1],[-5.6,-9.8],[-3.4,-10.6],[-1.2,-9.5],[0.9,-10.3],
  [-11.6,-11.2],[-9.6,-11.9],[-7.7,-10.9],[-5.9,-11.6],[-4.1,-11.3],[-2.3,-12.1],[0.3,-11.0],
  [-9.9,-13.3],[-8.2,-12.6],[-6.6,-13.6],[-4.9,-12.9],[-2.9,-13.2],[0.5,-13.6],[2.0,-15.5],
  [-9.3,-14.2],[-7.9,-14.9],[-6.2,-13.9],[-4.4,-14.6],[-2.1,-15.2],[4.2,-15.2],
  [-9.1,-15.5],[-7.7,-15.9],[-5.6,-16.5],[-4.7,-17.0],[4.6,-17.4],
  [-10.6,-20.8],[-9.5,-20.8]
];

// denser samples of the cloud centre in (c)
const coreC = [
  [-7.9,6.5],[-7.0,6.0],[-6.2,6.7],[-5.4,6.2],[-4.6,6.6],[-3.8,5.9],[-3.0,6.4],[-2.2,6.1],[-1.4,6.5],[-0.6,6.0],[0.2,6.7],[1.0,6.2],[1.8,6.6],[2.6,5.9],[3.5,6.4],[4.4,6.1],
  [-9.6,5.0],[-8.5,4.5],[-7.5,5.2],[-6.6,4.7],[-5.8,5.1],[-5.0,4.4],[-4.2,4.9],[-3.4,4.6],[-2.6,5.0],[-1.8,4.5],[-1.0,5.2],[-0.2,4.7],[0.6,5.1],[1.4,4.4],[2.2,4.9],[3.0,4.6],[3.8,5.0],[4.7,4.5],[5.6,5.2],[6.6,4.7],[7.7,5.1],
  [-10.2,3.5],[-9.1,3.0],[-8.1,3.7],[-7.2,3.2],[-6.4,3.6],[-5.6,2.9],[-4.8,3.4],[-4.0,3.1],[-3.3,3.5],[-2.6,3.0],[-1.9,3.7],[-1.2,3.2],[-0.5,3.6],[0.2,2.9],[0.9,3.4],[1.6,3.1],[2.3,3.5],[3.1,3.0],[3.9,3.7],[4.8,3.2],[5.8,3.6],[6.9,2.9],[8.1,3.4],[9.5,3.1],
  [-10.9,2.0],[-9.8,1.5],[-8.8,2.2],[-7.9,1.7],[-7.0,2.1],[-6.2,1.4],[-5.4,1.9],[-4.6,1.6],[-3.9,2.0],[-3.2,1.5],[-2.5,2.2],[-1.8,1.7],[-1.1,2.1],[-0.4,1.4],[0.3,1.9],[1.0,1.6],[1.7,2.0],[2.4,1.5],[3.2,2.2],[4.0,1.7],[4.9,2.1],[5.9,1.4],[7.0,1.9],[8.2,1.6],[9.5,2.0],[10.9,1.5],[12.1,2.2],
  [-10.8,0.5],[-9.7,0.0],[-8.7,0.7],[-7.8,0.2],[-7.0,0.6],[-6.2,-0.1],[-5.4,0.4],[-4.7,0.1],[-4.0,0.5],[-3.3,0.0],[-2.6,0.7],[-1.9,0.2],[-1.2,0.6],[-0.5,-0.1],[0.2,0.4],[0.9,0.1],[1.6,0.5],[2.3,0.0],[3.1,0.7],[3.9,0.2],[4.8,0.6],[5.7,-0.1],[6.7,0.4],[7.8,0.1],[9.0,0.5],[10.3,0.0],[11.7,0.7],[12.9,0.2],
  [-10.3,-1.0],[-9.2,-1.5],[-8.2,-0.8],[-7.3,-1.3],[-6.5,-0.9],[-5.7,-1.6],[-4.9,-1.1],[-4.1,-1.4],[-3.4,-1.0],[-2.7,-1.5],[-2.0,-0.8],[-1.3,-1.3],[-0.6,-0.9],[0.1,-1.6],[0.8,-1.1],[1.5,-1.4],[2.2,-1.0],[3.0,-1.5],[3.9,-0.8],[4.8,-1.3],[5.8,-0.9],[6.9,-1.6],[8.1,-1.1],[9.4,-1.4],[10.7,-1.0],[12.0,-1.5],
  [-9.8,-2.5],[-8.6,-3.0],[-7.5,-2.3],[-6.6,-2.8],[-5.7,-2.4],[-4.9,-3.1],[-4.1,-2.6],[-3.3,-2.9],[-2.6,-2.5],[-1.9,-3.0],[-1.2,-2.3],[-0.5,-2.8],[0.2,-2.4],[0.9,-3.1],[1.6,-2.6],[2.4,-2.9],[3.3,-2.5],[4.2,-3.0],[5.2,-2.3],[6.3,-2.8],[7.5,-2.4],[8.8,-3.1],[10.1,-2.6],
  [-8.9,-4.0],[-7.8,-4.5],[-6.8,-3.8],[-5.9,-4.3],[-5.0,-3.9],[-4.2,-4.6],[-3.4,-4.1],[-2.6,-4.4],[-1.8,-4.0],[-1.0,-4.5],[-0.2,-3.8],[0.6,-4.3],[1.4,-3.9],[2.3,-4.6],[3.2,-4.1],[4.2,-4.4],[5.3,-4.0],[6.5,-4.5],[7.8,-3.8],
  [-7.8,-5.5],[-6.7,-6.0],[-5.7,-5.3],[-4.8,-5.8],[-3.9,-5.4],[-3.0,-6.1],[-2.1,-5.6],[-1.2,-5.9],[-0.3,-5.5],[0.6,-6.0],[1.5,-5.3],[2.5,-5.8],[3.6,-5.4],[4.8,-6.1],
  [-6.0,-7.0],[-4.8,-7.5],[-3.6,-6.8],[-2.4,-7.3],[-1.2,-6.9],[0.0,-7.6],[1.2,-7.1],[2.5,-7.4]
];

function toXY(pts) {
  return pts.map(p => ({ x: p[0] / 1000, y: p[1] / 1000 }));
}

function tickText(v) {
  const k = v / labelStep;
  if (Math.abs(k - Math.round(k)) > 1e-6) return '';
  if (Math.abs(v) < 1e-9) return '0';
  return v.toFixed(2);
}

// inward tick marks on all four sides + frame
const marcasInternas = {
  id: 'marcasInternas',
  afterDraw(chart) {
    const { ctx, chartArea: a, scales: { x, y } } = chart;
    ctx.save();
    ctx.strokeStyle = '#8a8a8a';
    ctx.lineWidth = 1;
    ctx.beginPath();
    x.ticks.forEach(t => {
      const px = Math.round(x.getPixelForValue(t.value)) + 0.5;
      ctx.moveTo(px, a.bottom); ctx.lineTo(px, a.bottom - 7);
      ctx.moveTo(px, a.top); ctx.lineTo(px, a.top + 7);
    });
    y.ticks.forEach(t => {
      const py = Math.round(y.getPixelForValue(t.value)) + 0.5;
      const len = tickText(t.value) !== '' ? 8 : 5;
      ctx.moveTo(a.left, py); ctx.lineTo(a.left + len, py);
      ctx.moveTo(a.right, py); ctx.lineTo(a.right - len, py);
    });
    ctx.stroke();
    ctx.lineWidth = 1.5;
    ctx.strokeRect(a.left, a.top, a.width, a.height);
    ctx.restore();
  }
};

// quadrant names and percentages
const rotulosQuadrantes = {
  id: 'rotulosQuadrantes',
  afterDraw(chart, args, opts) {
    const { ctx, chartArea: a } = chart;
    const fx = [0.263, 0.737, 0.263, 0.737];
    const fy = [0.201, 0.201, 0.722, 0.722];
    ctx.save();
    ctx.fillStyle = '#2a2a2a';
    ctx.font = '16px "Liberation Serif"';
    ctx.textAlign = 'center';
    ctx.textBaseline = 'middle';
    quadrantNames.forEach((nome, i) => {
      const px = a.left + fx[i] * a.width;
      const py = a.top + fy[i] * a.height;
      ctx.fillText(nome, px, py);
      ctx.fillText(opts.shares[i], px, py + 17);
    });
    ctx.restore();
  }
};

function criaGrafico(id, pts, core, limit, yStep, shares, yWidth, padRight) {
  const tickFont = { family: 'Liberation Sans', size: 9 };
  const titleFont = { family: 'Liberation Serif', size: 18, weight: 'bold' };
  const zeroLine = c => (c.tick && Math.abs(c.tick.value) < 1e-9) ? '#8a8a8a' : 'rgba(0,0,0,0)';
  return new Chart(document.getElementById(id), {
    type: 'scatter',
    data: {
      datasets: [{
        data: toXY(pts),
        backgroundColor: '#111',
        borderWidth: 0,
        pointRadius: 1.35,
        pointHoverRadius: 1.35
      }, {
        data: toXY(core),
        backgroundColor: '#111',
        borderWidth: 0,
        pointRadius: 1.75,
        pointHoverRadius: 1.75
      }]
    },
    options: {
      responsive: false,
      animation: false,
      events: [],
      layout: { padding: { top: 12, right: padRight, left: 0, bottom: 0 } },
      plugins: {
        legend: { display: false },
        tooltip: { enabled: false },
        rotulosQuadrantes: { shares: shares }
      },
      scales: {
        x: {
          type: 'linear', min: -limit, max: limit,
          afterFit: s => { s.height = 45; },
          border: { display: false },
          grid: { color: zeroLine, lineWidth: 1, drawTicks: false },
          ticks: { stepSize: 0.01, autoSkip: false, maxRotation: 0, padding: 6, color: '#666', font: tickFont, callback: tickText },
          title: { display: true, text: 'u (m/s)', color: '#111', font: titleFont, padding: { top: 0, bottom: 4 } }
        },
        y: {
          type: 'linear', min: -limit, max: limit,
          afterFit: s => { s.width = yWidth; },
          border: { display: false },
          grid: { color: zeroLine, lineWidth: 1, drawTicks: false },
          ticks: { stepSize: yStep, autoSkip: false, padding: 6, color: '#666', font: tickFont, callback: tickText },
          title: { display: true, text: 'w (m/s)', color: '#111', font: titleFont, padding: { top: 4, bottom: 0 } }
        }
      }
    },
    plugins: [marcasInternas, rotulosQuadrantes]
  });
}

const graficoA = criaGrafico('graficoA', ptsA, coreA, limitA, 0.01, sharesA, 58, 19);
const graficoB = criaGrafico('graficoB', ptsB, coreB, limitB, 0.005, sharesB, 57, 13);
const graficoC = criaGrafico('graficoC', ptsC, coreC, limitC, 0.005, sharesC, 54, 17);
</script>
</body>
</html>
